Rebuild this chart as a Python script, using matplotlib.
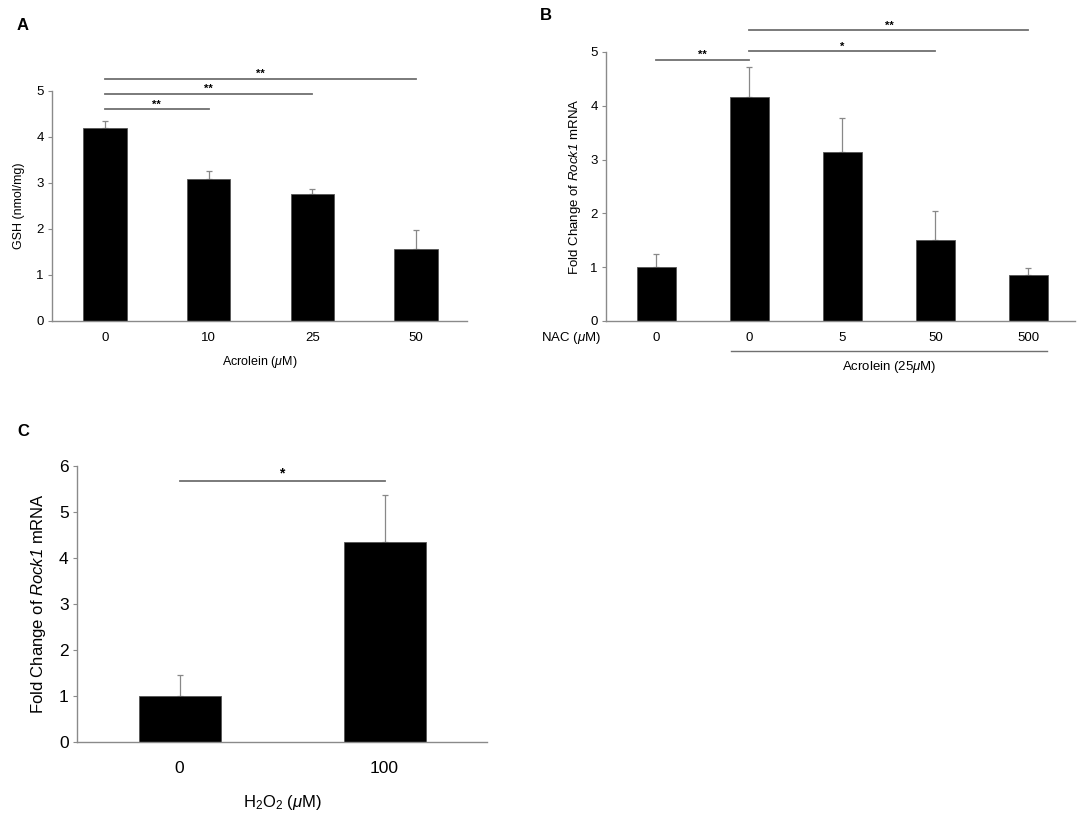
import numpy as np
import matplotlib
matplotlib.use("Agg")
import matplotlib.pyplot as plt

plt.rcParams["font.family"] = ["Liberation Sans", "DejaVu Sans"]
plt.rcParams["mathtext.fontset"] = "custom"
plt.rcParams["mathtext.rm"] = "Liberation Sans"
plt.rcParams["mathtext.it"] = "Liberation Sans:italic"
# sf slot used for a fully italic gene name (digits included)
plt.rcParams["mathtext.sf"] = "Liberation Sans:italic"

# panel A: GSH vs acrolein
a_labels = ["0", "10", "25", "50"]
a_values = [4.20, 3.08, 2.76, 1.57]
a_errors = [0.15, 0.17, 0.11, 0.41]
a_sig = [(0, 1, 4.60, "**"), (0, 2, 4.93, "**"), (0, 3, 5.27, "**")]

# panel B: Rock1 mRNA, NAC + acrolein
b_labels = ["0", "0", "5", "50", "500"]
b_values = [1.00, 4.16, 3.15, 1.50, 0.86]
b_errors = [0.25, 0.57, 0.62, 0.54, 0.13]
b_sig = [(0, 1, 4.86, "**"), (1, 3, 5.01, "*"), (1, 4, 5.40, "**")]

# panel C: Rock1 mRNA vs H2O2
c_labels = ["0", "100"]
c_values = [1.00, 4.34]
c_errors = [0.46, 1.04]
c_sig = [(0, 1, 5.67, "*")]

W, H = 1084, 818
fig = plt.figure(figsize=(W / 100, H / 100), dpi=100)

spine_col = "#8a8a8a"
line_col = "#707070"
rock_label = r"Fold Change of $\mathsf{Rock1}$ mRNA"


def px_axes(left, right, top, bottom):
    return fig.add_axes([left / W, 1 - bottom / H, (right - left) / W, (bottom - top) / H])


def bar_panel(ax, labels, values, errors, sig, ymax, tick_fs, star_fs, star_dy):
    x = np.arange(len(values))
    ax.bar(x, values, width=0.42, color="black", edgecolor="#555555", linewidth=0.6, zorder=2)
    ax.errorbar(x, values, yerr=[np.zeros(len(errors)), errors], fmt="none",
                ecolor="#888888", elinewidth=0.9, capsize=2, capthick=0.9, zorder=1)
    ax.set_xlim(-0.5, len(values) - 0.5)
    ax.set_ylim(0, ymax)
    ax.set_yticks(range(ymax + 1))
    ax.set_xticks(x)
    ax.set_xticklabels(labels)
    for s in ["top", "right"]:
        ax.spines[s].set_visible(False)
    for s in ["left", "bottom"]:
        ax.spines[s].set_color(spine_col)
        ax.spines[s].set_linewidth(1.0)
    ax.tick_params(axis="y", length=3, color=spine_col, labelsize=tick_fs, pad=3)
    ax.tick_params(axis="x", length=0, labelsize=tick_fs, pad=8)
    for i, j, y, txt in sig:
        ax.plot([x[i], x[j]], [y, y], color=line_col, lw=1.3, clip_on=False)
        ax.text((x[i] + x[j]) / 2, y + star_dy, txt, ha="center", va="bottom",
                fontsize=star_fs, fontweight="bold", clip_on=False)
    return x


# A
axA = px_axes(52, 467, 91, 321)
bar_panel(axA, a_labels, a_values, a_errors, a_sig, 5, 9.5, 8, 0.0)
axA.set_xlim(-0.51, 3.49)
axA.set_ylabel("GSH (nmol/mg)", fontsize=9, labelpad=8)
axA.set_xlabel(r"Acrolein ($\mu$M)", fontsize=9, labelpad=7)

# B
axB = px_axes(606, 1075, 52, 321)
xb = bar_panel(axB, b_labels, b_values, b_errors, b_sig, 5, 9.5, 8, 0.0)
axB.set_xlim(-0.54, 4.5)
axB.set_ylabel(rock_label, fontsize=9.5, labelpad=5)
axB.text(-0.075, -0.065, r"NAC ($\mu$M)", transform=axB.transAxes, ha="center",
         va="center", fontsize=9.5)
axB.plot([xb[1] - 0.2, xb[4] + 0.2], [-0.11, -0.11], color=line_col, lw=1.0,
         transform=axB.get_xaxis_transform(), clip_on=False)
axB.text((xb[1] + xb[4]) / 2, -0.17, r"Acrolein (25$\mu$M)", ha="center", va="center",
         fontsize=9.5, transform=axB.get_xaxis_transform())

# C
axC = px_axes(77, 487, 466, 742)
bar_panel(axC, c_labels, c_values, c_errors, c_sig, 6, 12.5, 10, 0.02)
axC.set_ylabel(rock_label, fontsize=12, labelpad=8)
axC.set_xlabel(r"H$_2$O$_2$ ($\mu$M)", fontsize=12, labelpad=12)
axC.tick_params(axis="x", pad=14)
for bar in axC.patches:
    bar.set_width(0.40)
    bar.set_x(bar.get_x() + 0.01)

# panel letters
fig.text(17 / W, 1 - 25 / H, "A", fontsize=12, fontweight="bold", va="center")
fig.text(540 / W, 1 - 16 / H, "B", fontsize=12, fontweight="bold", va="center")
fig.text(17 / W, 1 - 432 / H, "C", fontsize=12, fontweight="bold", va="center")

fig.savefig("out.png", dpi=100)
